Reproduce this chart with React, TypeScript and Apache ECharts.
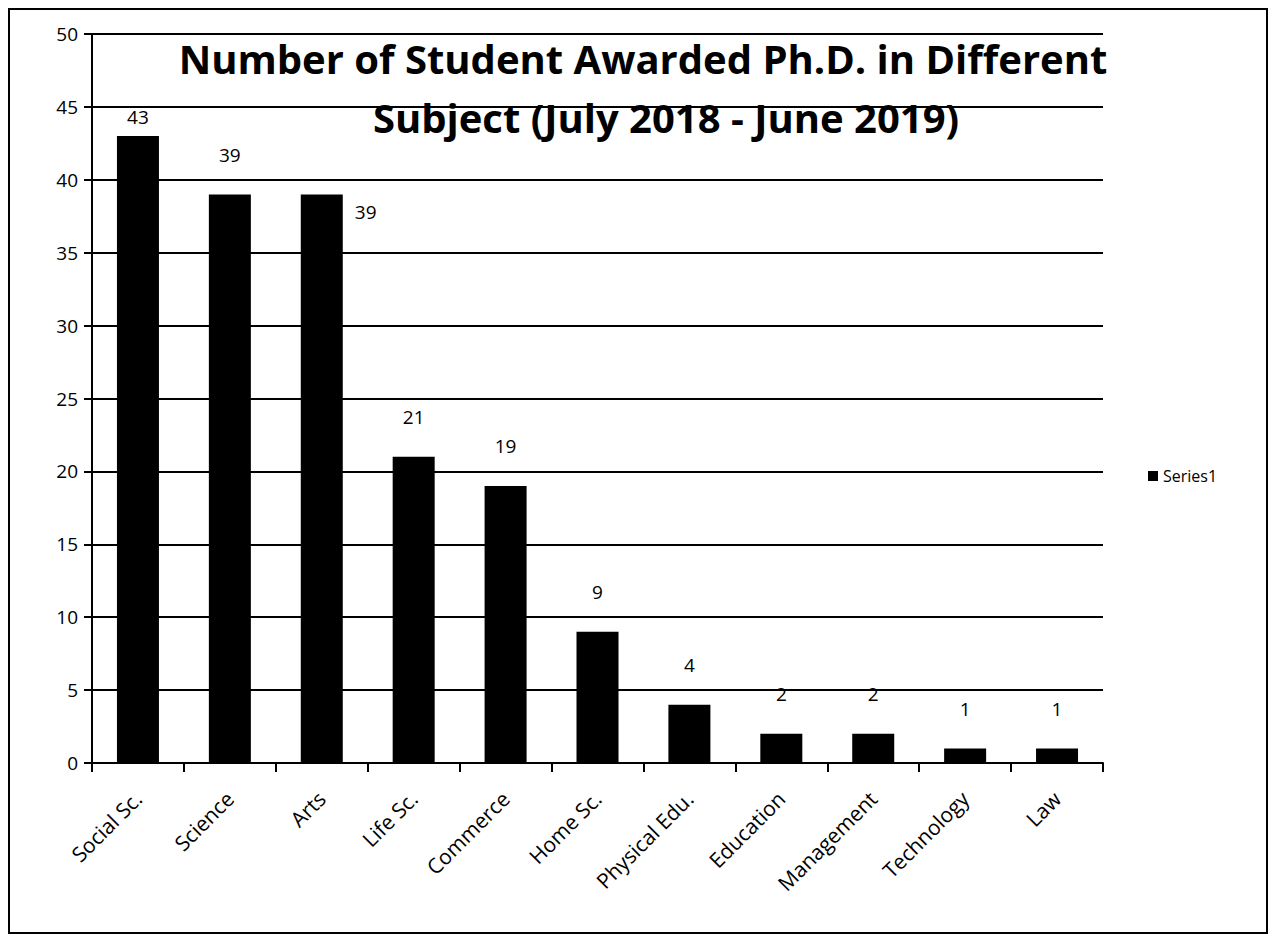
import React, { useEffect, useRef } from "react";
import * as echarts from "echarts";

const categories = [
  "Social Sc.",
  "Science",
  "Arts",
  "Life Sc.",
  "Commerce",
  "Home Sc.",
  "Physical Edu.",
  "Education",
  "Management",
  "Technology",
  "Law",
];
const values = [43, 39, 39, 21, 19, 9, 4, 2, 2, 1, 1];
const seriesName = "Series1";
const titleLines = [
  "Number of Student Awarded Ph.D. in Different",
  "Subject (July 2018 - June 2019)",
];

const FONT = "'Open Sans', Lato, sans-serif";

export default function App() {
  const ref = useRef<HTMLDivElement>(null);
  useEffect(() => {
    document.body.style.margin = "0";
    const chart = echarts.init(ref.current!, null, { renderer: "svg" });
    const data = values.map((v, i) => {
      const item: any = { value: v };
      if (i === 0) item.label = { distance: 10 };
      if (i === 2)
        item.label = { position: [54, 8], align: "left", verticalAlign: "top" };
      return item;
    });
    const titleStyle = {
      fontFamily: FONT,
      fontSize: 40,
      fontWeight: "bold",
      color: "#000",
    };
    chart.setOption({
      animation: false,
      backgroundColor: "#ffffff",
      textStyle: { fontFamily: FONT, color: "#000" },
      title: [
        { text: titleLines[0], left: 638, top: 33, textAlign: "center", textStyle: titleStyle },
        { text: titleLines[1], left: 661, top: 92, textAlign: "center", textStyle: titleStyle },
      ],
      legend: {
        show: true,
        left: 1143,
        top: 463,
        itemWidth: 10,
        itemHeight: 10,
        itemGap: 4,
        icon: "rect",
        textStyle: { fontFamily: FONT, fontSize: 16, color: "#000" },
        data: [seriesName],
      },
      grid: { left: 92, right: 173, top: 34, bottom: 177, containLabel: false },
      xAxis: {
        type: "category",
        data: categories,
        axisLine: { lineStyle: { color: "#000", width: 2 } },
        axisTick: { show: true, alignWithLabel: false, length: 9, lineStyle: { color: "#000", width: 2 } },
        axisLabel: {
          rotate: 45,
          margin: 32,
          interval: 0,
          fontSize: 21,
          color: "#000",
          fontFamily: FONT,
        },
      },
      yAxis: {
        type: "value",
        min: 0,
        max: 50,
        interval: 5,
        axisLine: { show: true, lineStyle: { color: "#000", width: 2 } },
        axisTick: { show: true, length: 8, lineStyle: { color: "#000", width: 2 } },
        axisLabel: { fontSize: 19, color: "#000", margin: 14, fontFamily: FONT },
        splitLine: { show: true, lineStyle: { color: "#000", width: 2 } },
      },
      series: [
        {
          name: seriesName,
          type: "bar",
          data,
          barWidth: 42,
          itemStyle: { color: "#000" },
          label: {
            show: true,
            position: "top",
            distance: 30,
            fontSize: 19,
            color: "#000",
            fontFamily: FONT,
          },
        },
      ],
      graphic: [
        {
          type: "rect",
          shape: { x: 9, y: 9, width: 1258, height: 924 },
          style: { fill: "none", stroke: "#000", lineWidth: 2 },
          silent: true,
        },
      ],
    });
    return () => chart.dispose();
  }, []);
  return <div ref={ref} style={{ width: 1276, height: 940 }} />;
}
